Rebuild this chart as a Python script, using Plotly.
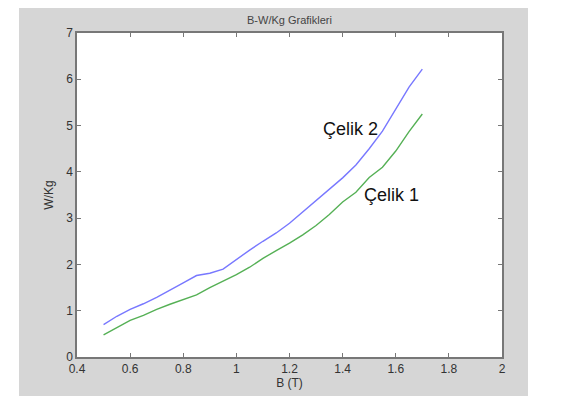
import plotly.graph_objects as go

B = [0.50, 0.55, 0.60, 0.65, 0.70, 0.75, 0.80, 0.85, 0.90, 0.95, 1.00, 1.05, 1.10,
     1.15, 1.20, 1.25, 1.30, 1.35, 1.40, 1.45, 1.50, 1.55, 1.60, 1.65, 1.70]
celik2 = [0.70, 0.88, 1.03, 1.15, 1.29, 1.44, 1.60, 1.76, 1.81, 1.90, 2.11, 2.31, 2.50,
          2.68, 2.89, 3.13, 3.37, 3.61, 3.87, 4.15, 4.50, 4.88, 5.35, 5.83, 6.22]
celik1 = [0.48, 0.64, 0.79, 0.90, 1.03, 1.14, 1.24, 1.34, 1.50, 1.64, 1.78, 1.94, 2.13,
          2.30, 2.46, 2.64, 2.84, 3.08, 3.35, 3.56, 3.88, 4.10, 4.45, 4.87, 5.25]
x_ticks = [0.4, 0.6, 0.8, 1.0, 1.2, 1.4, 1.6, 1.8, 2.0]
x_ticklabels = ["0.4", "0.6", "0.8", "1", "1.2", "1.4", "1.6", "1.8", "2"]
y_ticks = [0, 1, 2, 3, 4, 5, 6, 7]

FONT = "Liberation Sans, Arial, sans-serif"
W, H = 563, 396
L, R, T, Bm = 69, 69, 25, 47
PW, PH = W - L - R, H - T - Bm


def px_x(p):
    return (p - L) / PW


def px_y(p):
    return (H - Bm - p) / PH


fig = go.Figure()
fig.add_trace(go.Scatter(x=B, y=celik2, mode="lines", name="Çelik 2",
                         line=dict(color="#7878ff", width=1.4)))
fig.add_trace(go.Scatter(x=B, y=celik1, mode="lines", name="Çelik 1",
                         line=dict(color="#55b055", width=1.4)))

fig.add_annotation(x=1.43, y=4.93, text="Çelik 2", showarrow=False,
                   font=dict(size=18, color="#111", family=FONT))
fig.add_annotation(x=1.585, y=3.50, text="Çelik 1", showarrow=False,
                   font=dict(size=18, color="#111", family=FONT))

# white strips around the grey figure window
for x0, x1, y0, y1 in [(0, 11, 0, H), (520, W, 0, H), (0, W, 394, H)]:
    fig.add_shape(type="rect", xref="paper", yref="paper", layer="below",
                  x0=px_x(x0), x1=px_x(x1), y0=px_y(y1), y1=px_y(y0),
                  fillcolor="#ffffff", line=dict(width=0))

axis_common = dict(showgrid=False, zeroline=False, showline=True, mirror="ticks",
                   linecolor="#777777", linewidth=1.5, ticks="inside", ticklen=4,
                   tickcolor="#777777", automargin=False,
                   tickfont=dict(size=12, color="#333", family=FONT))
fig.update_xaxes(range=[0.4, 2.0], tickvals=x_ticks, ticktext=x_ticklabels,
                 title=dict(text="B (T)", font=dict(size=12, color="#333", family=FONT),
                            standoff=3),
                 **axis_common)
fig.update_yaxes(range=[0, 7], tickvals=y_ticks,
                 title=dict(text="W/Kg", font=dict(size=12, color="#333", family=FONT),
                            standoff=10),
                 **axis_common)

fig.update_layout(
    width=W, height=H,
    margin=dict(l=L, r=R, t=T, b=Bm, autoexpand=False),
    paper_bgcolor="#d6d6d6", plot_bgcolor="#ffffff",
    showlegend=False,
    title=dict(text="B-W/Kg Grafikleri", xref="paper", x=0.5, xanchor="center",
               y=0.969, yanchor="middle",
               font=dict(size=11, color="#444", family=FONT)),
    font=dict(family=FONT),
)
fig.write_html("out.html")
